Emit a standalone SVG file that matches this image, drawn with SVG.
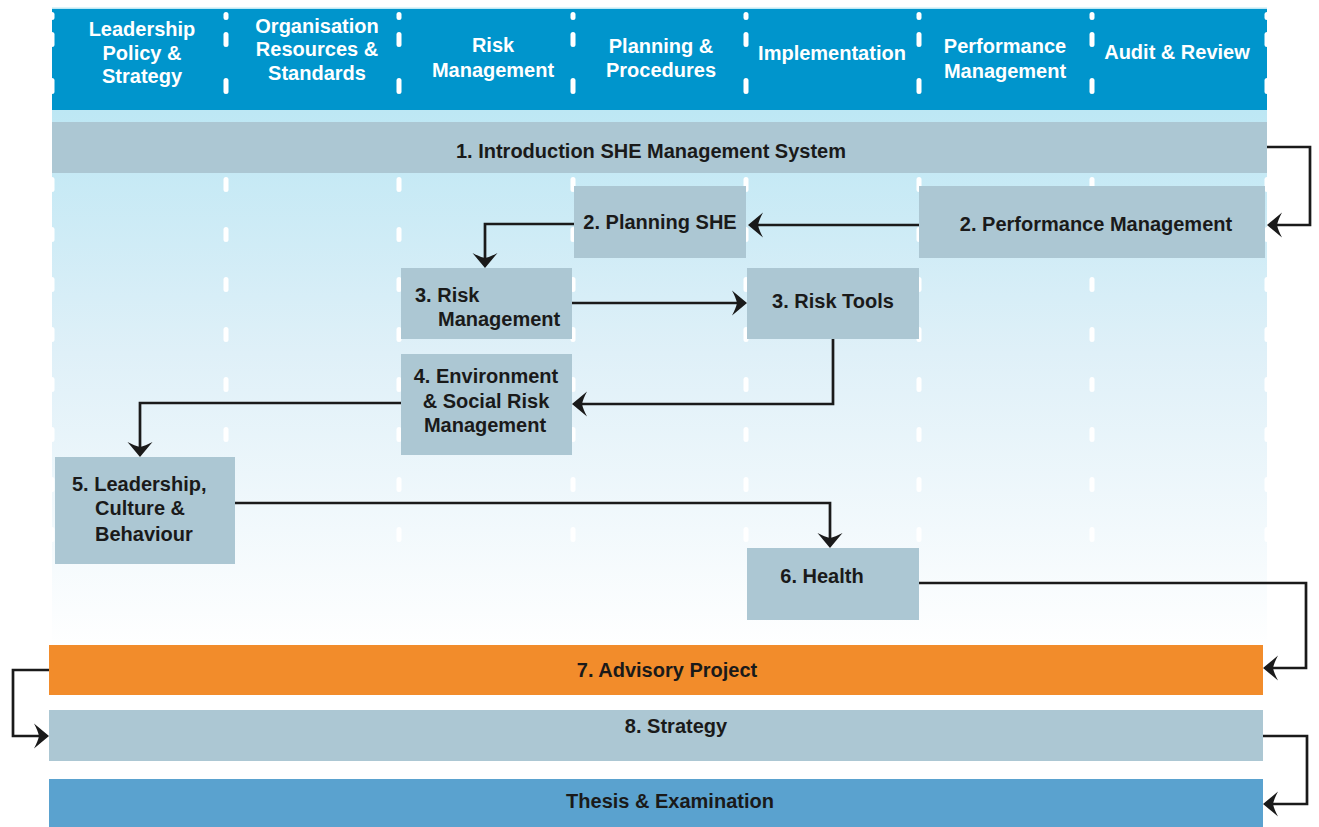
<svg xmlns="http://www.w3.org/2000/svg" width="1319" height="827" viewBox="0 0 1319 827">
<style>
.h{font-family:"Liberation Sans",Arial,sans-serif;font-weight:bold;font-size:20px;fill:#ffffff;text-anchor:middle}
.t{font-family:"Liberation Sans",Arial,sans-serif;font-weight:bold;font-size:20px;fill:#1a1a1a}
.m{text-anchor:middle}
.box{fill:#ACC7D3}
.dash{fill:#ffffff}
.c{fill:none;stroke:#1a1a1a;stroke-width:2.7;marker-end:url(#arr)}
</style>
<defs>
<linearGradient id="bg" x1="0" y1="0" x2="0" y2="1">
<stop offset="0" stop-color="#BDE7F4"/>
<stop offset="0.45" stop-color="#DFF0F8"/>
<stop offset="1" stop-color="#FFFFFF"/>
</linearGradient>
<marker id="arr" markerUnits="userSpaceOnUse" markerWidth="36" markerHeight="36" viewBox="-18 -18 36 36" refX="-6" refY="0" orient="auto">
<path d="M0,0 L-15,-12.5 Q-11,-5 -10,0 Q-11,5 -15,12.5 Z" fill="#1a1a1a"/>
</marker>
<rect id="dh" class="dash" x="-2.5" y="0" width="5" height="15" rx="2.5"/>
</defs>

<rect x="0" y="0" width="1319" height="827" fill="#ffffff"/>

<g id="background">
<rect x="52" y="7.5" width="1215" height="2" fill="#BEE8F4"/>
<rect x="52" y="9" width="1215" height="101" fill="#0095CC"/>
<rect x="52" y="110" width="1215" height="540" fill="url(#bg)"/>
</g>

<g id="column-dashes">
<g transform="translate(52,0)"><rect class="dash" x="-2.5" y="12" width="5" height="8" rx="2.5"/><rect class="dash" x="-2.5" y="32" width="5" height="15" rx="2.5"/><rect class="dash" x="-2.5" y="78" width="5" height="16" rx="2.5"/></g>
<g transform="translate(226,0)"><rect class="dash" x="-2.5" y="12" width="5" height="8" rx="2.5"/><rect class="dash" x="-2.5" y="32" width="5" height="15" rx="2.5"/><rect class="dash" x="-2.5" y="78" width="5" height="16" rx="2.5"/></g>
<g transform="translate(399,0)"><rect class="dash" x="-2.5" y="12" width="5" height="8" rx="2.5"/><rect class="dash" x="-2.5" y="32" width="5" height="15" rx="2.5"/><rect class="dash" x="-2.5" y="78" width="5" height="16" rx="2.5"/></g>
<g transform="translate(573,0)"><rect class="dash" x="-2.5" y="12" width="5" height="8" rx="2.5"/><rect class="dash" x="-2.5" y="32" width="5" height="15" rx="2.5"/><rect class="dash" x="-2.5" y="78" width="5" height="16" rx="2.5"/></g>
<g transform="translate(746,0)"><rect class="dash" x="-2.5" y="12" width="5" height="8" rx="2.5"/><rect class="dash" x="-2.5" y="32" width="5" height="15" rx="2.5"/><rect class="dash" x="-2.5" y="78" width="5" height="16" rx="2.5"/></g>
<g transform="translate(919,0)"><rect class="dash" x="-2.5" y="12" width="5" height="8" rx="2.5"/><rect class="dash" x="-2.5" y="32" width="5" height="15" rx="2.5"/><rect class="dash" x="-2.5" y="78" width="5" height="16" rx="2.5"/></g>
<g transform="translate(1092,0)"><rect class="dash" x="-2.5" y="12" width="5" height="8" rx="2.5"/><rect class="dash" x="-2.5" y="32" width="5" height="15" rx="2.5"/><rect class="dash" x="-2.5" y="78" width="5" height="16" rx="2.5"/></g>
<g transform="translate(1267,0)"><rect class="dash" x="-2.5" y="12" width="5" height="8" rx="2.5"/><rect class="dash" x="-2.5" y="32" width="5" height="15" rx="2.5"/><rect class="dash" x="-2.5" y="78" width="5" height="16" rx="2.5"/></g>
<g id="lower-dashes">
<g transform="translate(0,177)"><use href="#dh" x="52"/><use href="#dh" x="226"/><use href="#dh" x="399"/><use href="#dh" x="573"/><use href="#dh" x="746"/><use href="#dh" x="919"/><use href="#dh" x="1092"/><use href="#dh" x="1267"/></g>
<g transform="translate(0,227)"><use href="#dh" x="52"/><use href="#dh" x="226"/><use href="#dh" x="399"/><use href="#dh" x="573"/><use href="#dh" x="746"/><use href="#dh" x="919"/><use href="#dh" x="1092"/><use href="#dh" x="1267"/></g>
<g transform="translate(0,277)"><use href="#dh" x="52"/><use href="#dh" x="226"/><use href="#dh" x="399"/><use href="#dh" x="573"/><use href="#dh" x="746"/><use href="#dh" x="919"/><use href="#dh" x="1092"/><use href="#dh" x="1267"/></g>
<g transform="translate(0,327)"><use href="#dh" x="52"/><use href="#dh" x="226"/><use href="#dh" x="399"/><use href="#dh" x="573"/><use href="#dh" x="746"/><use href="#dh" x="919"/><use href="#dh" x="1092"/><use href="#dh" x="1267"/></g>
<g transform="translate(0,377)"><use href="#dh" x="52"/><use href="#dh" x="226"/><use href="#dh" x="399"/><use href="#dh" x="573"/><use href="#dh" x="746"/><use href="#dh" x="919"/><use href="#dh" x="1092"/><use href="#dh" x="1267"/></g>
<g transform="translate(0,427)"><use href="#dh" x="52"/><use href="#dh" x="226"/><use href="#dh" x="399"/><use href="#dh" x="573"/><use href="#dh" x="746"/><use href="#dh" x="919"/><use href="#dh" x="1092"/><use href="#dh" x="1267"/></g>
<g transform="translate(0,477)"><use href="#dh" x="52"/><use href="#dh" x="226"/><use href="#dh" x="399"/><use href="#dh" x="573"/><use href="#dh" x="746"/><use href="#dh" x="919"/><use href="#dh" x="1092"/><use href="#dh" x="1267"/></g>
<g transform="translate(0,527)"><use href="#dh" x="52"/><use href="#dh" x="226"/><use href="#dh" x="399"/><use href="#dh" x="573"/><use href="#dh" x="746"/><use href="#dh" x="919"/><use href="#dh" x="1092"/><use href="#dh" x="1267"/></g>
</g>
</g>

<g id="header-labels">
<text class="h" x="142" y="36">Leadership</text>
<text class="h" x="142" y="60">Policy &amp;</text>
<text class="h" x="142" y="83">Strategy</text>
<text class="h" x="317" y="33">Organisation</text>
<text class="h" x="317" y="56">Resources &amp;</text>
<text class="h" x="317" y="80">Standards</text>
<text class="h" x="493" y="52">Risk</text>
<text class="h" x="493" y="77">Management</text>
<text class="h" x="661" y="53">Planning &amp;</text>
<text class="h" x="661" y="77">Procedures</text>
<text class="h" x="832" y="60">Implementation</text>
<text class="h" x="1005" y="53">Performance</text>
<text class="h" x="1005" y="78">Management</text>
<text class="h" x="1177" y="59">Audit &amp; Review</text>
</g>

<g id="n1">
<rect class="box" x="52" y="122" width="1215" height="51"/>
<text class="t m" x="651" y="158">1. Introduction SHE Management System</text>
</g>
<g id="n2a">
<rect class="box" x="574" y="186" width="172" height="72"/>
<text class="t m" x="660" y="229">2. Planning SHE</text>
</g>
<g id="n2b">
<rect class="box" x="919" y="186" width="346" height="72"/>
<text class="t m" x="1096" y="231">2. Performance Management</text>
</g>
<g id="n3a">
<rect class="box" x="401" y="268" width="171" height="71"/>
<text class="t" x="415" y="302">3. Risk</text>
<text class="t" x="438" y="326">Management</text>
</g>
<g id="n3b">
<rect class="box" x="747" y="268" width="172" height="71"/>
<text class="t m" x="833" y="308">3. Risk Tools</text>
</g>
<g id="n4">
<rect class="box" x="401" y="354" width="171" height="101"/>
<text class="t m" x="486" y="383">4. Environment</text>
<text class="t m" x="486" y="408">&amp; Social Risk</text>
<text class="t m" x="485" y="432">Management</text>
</g>
<g id="n5">
<rect class="box" x="55" y="457" width="180" height="107"/>
<text class="t" x="72" y="491">5. Leadership,</text>
<text class="t" x="95" y="515">Culture &amp;</text>
<text class="t" x="95" y="541">Behaviour</text>
</g>
<g id="n6">
<rect class="box" x="747" y="548" width="172" height="72"/>
<text class="t m" x="822" y="583">6. Health</text>
</g>
<g id="n7">
<rect x="49" y="645" width="1214" height="50" fill="#F28C2B"/>
<text class="t m" x="667" y="677">7. Advisory Project</text>
</g>
<g id="n8">
<rect class="box" x="49" y="710" width="1214" height="51"/>
<text class="t m" x="676" y="733">8. Strategy</text>
</g>
<g id="n9">
<rect x="49" y="779" width="1214" height="48" fill="#5AA2CF"/>
<text class="t m" x="670" y="808">Thesis &amp; Examination</text>
</g>

<g id="connectors">
<path class="c" d="M1267,147 H1310 V225 H1273"/>
<path class="c" d="M919,225 H754"/>
<path class="c" d="M574,224 H485 V262"/>
<path class="c" d="M572,303 H741"/>
<path class="c" d="M833,339 V404 H578"/>
<path class="c" d="M401,403 H140 V451"/>
<path class="c" d="M235,503 H830 V542"/>
<path class="c" d="M919,583 H1306 V668 H1269"/>
<path class="c" d="M49,670 H13 V736 H43"/>
<path class="c" d="M1263,736 H1307 V804 H1269"/>
</g>
</svg>
